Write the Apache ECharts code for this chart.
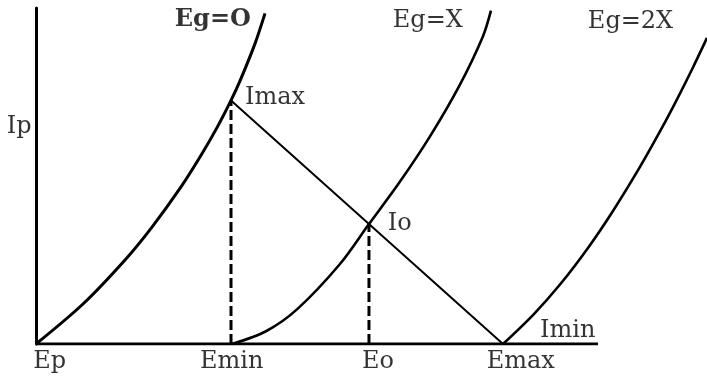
<!DOCTYPE html>
<html>
<head>
<meta charset="utf-8">
<script src="https://cdn.jsdelivr.net/npm/echarts@6/dist/echarts.min.js"></script>
<style>
  html, body { margin: 0; padding: 0; background: #fff; }
  #chart { width: 707px; height: 379px; }
</style>
</head>
<body>
<div id="chart"></div>
<script>
// plate characteristic curves, one per grid voltage
const curveNames = ["Eg=O", "Eg=X", "Eg=2X"];
const curveX = [
  [0, 8.36, 15.84, 20.64, 25.62, 29.18, 32.21, 34.7, 36.3, 38.97, 40.75],
  [34.9, 40.93, 46.44, 54.09, 59.25, 64.59, 70.11, 75.44, 79.54, 80.96],
  [83.1, 88.43, 93.24, 98.22, 102.67, 107.47, 111.57, 114.06, 116.9, 119.4],
];
const curveY = [
  [0, 11.9, 25.0, 34.8, 46.3, 55.65, 64.4, 72.5, 78.3, 89.4, 98.4],
  [0, 3.8, 10.3, 23.8, 35.7, 47.9, 61.8, 77.2, 91.6, 99.2],
  [0, 8.6, 17.7, 28.6, 39.6, 52.7, 64.9, 72.8, 82.3, 91.1],
];

// load line Imax -> Io -> Emax
const loadX = [34.7, 59.25, 83.1];
const loadY = [72.5, 35.7, 0];

// dashed drops from Imax and Io
const dropX = [34.7, 59.25];
const dropY = [72.5, 35.7];

// E axis is drawn only up to 100, the plot keeps going to the right
const axisEnd = 100;

// text labels
const labelText = ["Eg=O", "Eg=X", "Eg=2X", "Imax", "Io", "Imin", "Ip", "Ep", "Emin", "Eo", "Emax"];
const labelX = [24.7, 63.5, 98.2, 37.2, 62.6, 89.7, -5.2, -0.5, 29.2, 58.0, 80.2];
const labelY = [96.4, 96.1, 95.8, 73.2, 35.7, 3.9, 64.6, -5.4, -5.4, -5.4, -5.4];

const zip = (xs, ys) => xs.map((x, i) => [x, ys[i]]);

const chart = echarts.init(document.getElementById("chart"));

const series = [];
curveNames.forEach((name, i) => {
  series.push({
    name: name,
    type: "line",
    data: zip(curveX[i], curveY[i]),
    smooth: 0.3,
    symbol: "none",
    clip: false,
    lineStyle: { color: "#000", width: i === 0 ? 3 : 2.6 },
  });
});
series.push({
  type: "line",
  data: [[0, 0], [axisEnd, 0]],
  symbol: "none",
  lineStyle: { color: "#000", width: 3 },
});
series.push({
  type: "line",
  data: zip(loadX, loadY),
  symbol: "none",
  lineStyle: { color: "#000", width: 2 },
});
dropX.forEach((x, i) => {
  series.push({
    type: "line",
    data: [[x, 0], [x, dropY[i]]],
    symbol: "none",
    lineStyle: { color: "#000", width: 3, type: [10, 4] },
  });
});
series.push({
  type: "scatter",
  symbolSize: 0,
  clip: false,
  data: labelText.map((t, i) => ({
    value: [labelX[i], labelY[i]],
    name: t,
    // the first curve's tag is printed heavier
    label: { fontWeight: i === 0 ? "bold" : "normal" },
  })),
  label: {
    show: true,
    position: "right",
    distance: 0,
    formatter: "{b}",
    color: "#000",
    fontFamily: "DejaVu Serif",
    fontSize: 24,
  },
});

chart.setOption({
  animation: false,
  backgroundColor: "#fff",
  grid: { left: 36, right: 0, top: 8, bottom: 35 },
  xAxis: {
    type: "value",
    min: 0,
    max: 119.4,
    axisLine: { show: false },
    axisTick: { show: false },
    axisLabel: { show: false },
    splitLine: { show: false },
  },
  yAxis: {
    type: "value",
    min: 0,
    max: 100,
    axisLine: { show: true, lineStyle: { color: "#000", width: 3 } },
    axisTick: { show: false },
    axisLabel: { show: false },
    splitLine: { show: false },
  },
  series: series,
});
</script>
</body>
</html>
